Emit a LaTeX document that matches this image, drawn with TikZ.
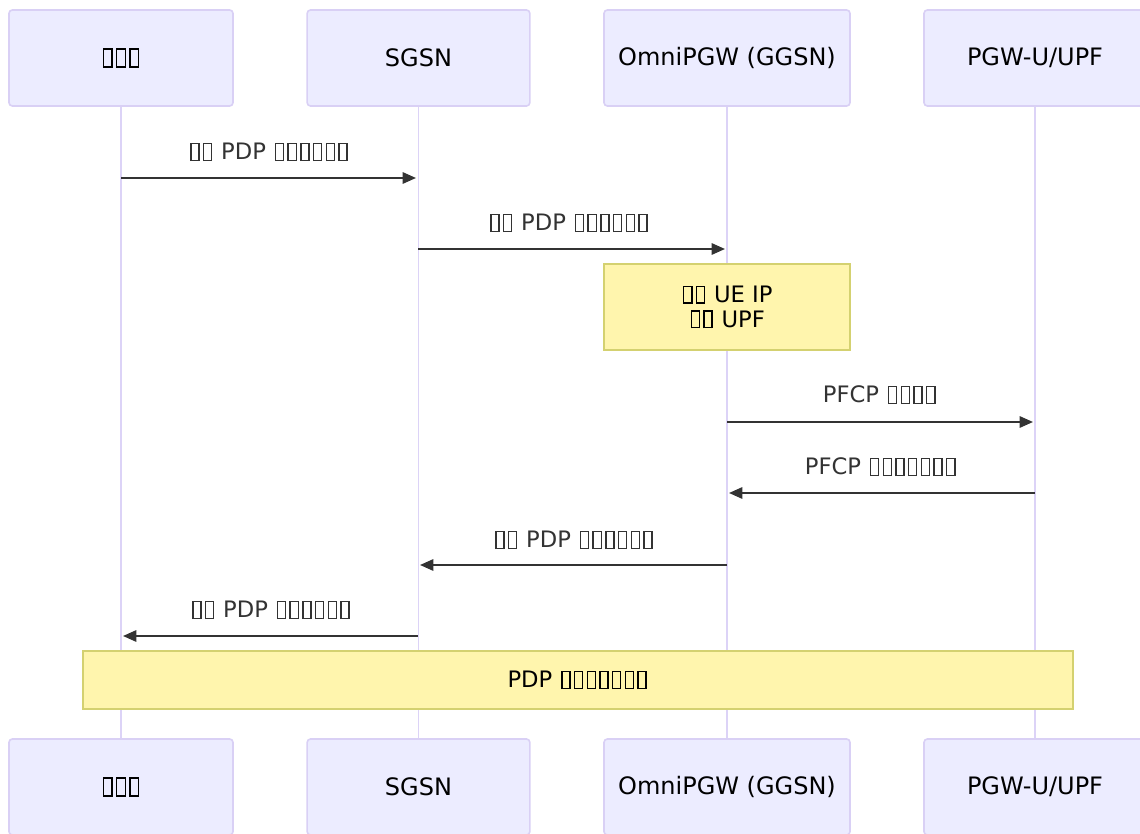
\documentclass[tikz,border=0pt]{standalone}
\usepackage{fontspec}
\setmainfont{DejaVu Sans}
\usetikzlibrary{arrows.meta}
\definecolor{actfill}{HTML}{ECECFF}
\definecolor{actdraw}{HTML}{D9D0F5}
\definecolor{lifecol}{HTML}{DCD3F7}
\definecolor{notefill}{HTML}{FFF5AD}
\definecolor{notedraw}{HTML}{D4D170}
\definecolor{msgcol}{HTML}{333333}
\newcommand\tofu{\hbox{\kern0.07em\lower0.05em\hbox{\vrule width0.06em height0.8em\vbox to0.8em{\hrule height0.06em width0.3em\vfill\hrule height0.06em width0.3em}\vrule width0.06em height0.8em}\kern0.07em}}
\newcommand\tofus[1]{\begingroup\count255=0 \loop\ifnum\count255<#1 \tofu\advance\count255 by 1 \repeat\endgroup}
\tikzset{
  actorbox/.style={draw=actdraw, fill=actfill, line width=1.2pt, rounded corners=2.5pt, inner sep=0pt, font=\fontsize{18}{20}\selectfont, text=black},
  lifeline/.style={draw=lifecol, line width=1.3pt},
  msg/.style={draw=msgcol, line width=1.5pt, -{Triangle[length=10pt,width=8.5pt]}},
  msglabel/.style={font=\fontsize{17}{20}\selectfont, text=msgcol, inner sep=0pt},
  notebox/.style={draw=notedraw, fill=notefill, line width=0.9pt, inner sep=0pt, font=\fontsize{17}{18.5}\selectfont, text=black, align=center}
}
\begin{document}
\begin{tikzpicture}[x=0.75pt,y=-0.75pt]
\useasboundingbox (0,0) rectangle (1140,834);
\clip (0,0) rectangle (1140,834);
% actors top
\node[actorbox, minimum width=168pt, minimum height=72pt] (a1) at (121,58) {\tofus{3}};
\node[actorbox, minimum width=167pt, minimum height=72pt] (a2) at (418.5,58) {SGSN};
\node[actorbox, minimum width=184.5pt, minimum height=72pt] (a3) at (727,58) {OmniPGW (GGSN)};
\node[actorbox, minimum width=166.5pt, minimum height=72pt] (a4) at (1035,58) {PGW-U/UPF};
% actors bottom
\node[actorbox, minimum width=168pt, minimum height=72pt] (b1) at (121,787) {\tofus{3}};
\node[actorbox, minimum width=167pt, minimum height=72pt] (b2) at (418.5,787) {SGSN};
\node[actorbox, minimum width=184.5pt, minimum height=72pt] (b3) at (727,787) {OmniPGW (GGSN)};
\node[actorbox, minimum width=166.5pt, minimum height=72pt] (b4) at (1035,787) {PGW-U/UPF};
% lifelines
\draw[lifeline] (a1.south) -- (b1.north);
\draw[lifeline] (a2.south) -- (b2.north);
\draw[lifeline] (a3.south) -- (b3.north);
\draw[lifeline] (a4.south) -- (b4.north);
% message coordinates
\coordinate (m1s) at (121,178); \coordinate (m1e) at (416,178);
\coordinate (m2s) at (418,249); \coordinate (m2e) at (725,249);
\coordinate (m3s) at (727,422); \coordinate (m3e) at (1033,422);
\coordinate (m4s) at (1035,493); \coordinate (m4e) at (729,493);
\coordinate (m5s) at (727,565); \coordinate (m5e) at (420,565);
\coordinate (m6s) at (418,636); \coordinate (m6e) at (123,636);
\draw[msg] (m1s) -- (m1e);
\draw[msg] (m2s) -- (m2e);
\draw[msg] (m3s) -- (m3e);
\draw[msg] (m4s) -- (m4e);
\draw[msg] (m5s) -- (m5e);
\draw[msg] (m6s) -- (m6e);
\node[msglabel] (l1) at (269,152) {\tofus{2} PDP \tofus{6}};
\node[msglabel] (l2) at (569,223) {\tofus{2} PDP \tofus{6}};
\node[msglabel] (l3) at (880,395) {PFCP \tofus{4}};
\node[msglabel] (l4) at (881,467) {PFCP \tofus{7}};
\node[msglabel] (l5) at (574,540) {\tofus{2} PDP \tofus{6}};
\node[msglabel] (l6) at (271,610) {\tofus{2} PDP \tofus{6}};
% notes
\node[notebox, minimum width=184.5pt, minimum height=64.5pt] (n1) at (727,307) {\tofus{2} UE IP\\\tofus{2} UPF};
\node[notebox, minimum width=742.5pt, minimum height=43.5pt] (n2) at (578,680) {PDP \tofus{7}};
\end{tikzpicture}
\end{document}
